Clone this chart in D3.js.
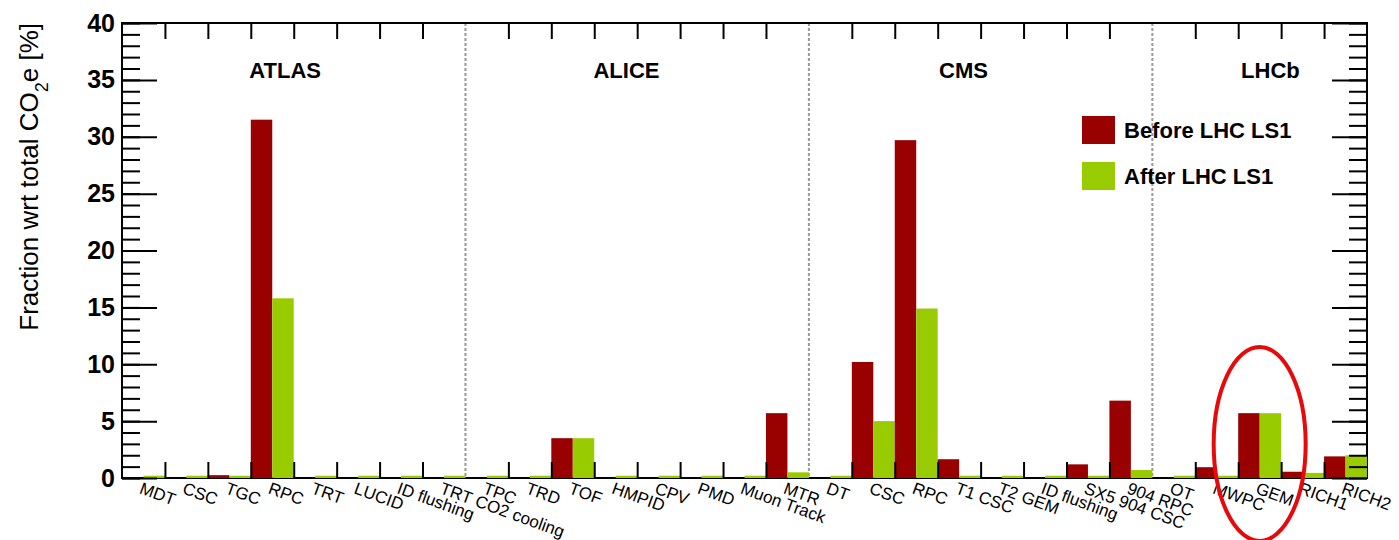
<!DOCTYPE html>
<html lang="en">
<head>
<meta charset="utf-8">
<title>Fraction wrt total CO2e per system</title>
<style>
  body { margin: 0; background: #fff; }
  svg text { font-family: "Liberation Sans", Arial, sans-serif; fill: #000; }
  .tick line { stroke: #000; stroke-width: 2; }
  .ytick text { font-size: 25px; font-weight: bold; }
  .xlabel { font-size: 17px; }
  .group-title { font-size: 22px; font-weight: bold; text-anchor: middle; }
  .legend-text { font-size: 22px; font-weight: bold; }
  .axis-title { font-size: 26px; }
  .sep { stroke: #999; stroke-width: 2; stroke-dasharray: 3,2; }
</style>
</head>
<body>
<div id="chart"></div>
<script src="https://cdn.jsdelivr.net/npm/d3@7"></script>
<script>

// one bin per gas system, grouped by experiment
var systems = ["MDT", "CSC", "TGC", "RPC", "TRT", "LUCID", "ID flushing", "TRT CO2 cooling",
               "TPC", "TRD", "TOF", "HMPID", "CPV", "PMD", "Muon Track", "MTR",
               "DT", "CSC", "RPC", "T1 CSC", "T2 GEM", "ID flushing", "SX5 904 CSC", "904 RPC",
               "OT", "MWPC", "GEM", "RICH1", "RICH2"];
var experiments = ["ATLAS", "ALICE", "CMS", "LHCb"];
var experimentSize = [8, 8, 8, 5];

// fraction wrt total CO2e [%]
var beforeLS1 = [0, 0, 0.25, 31.5, 0, 0, 0, 0,
                 0, 0, 3.5, 0, 0, 0, 0, 5.7,
                 0, 10.2, 29.7, 1.65, 0, 0, 1.2, 6.8,
                 0, 0.95, 5.7, 0.55, 1.9];
var afterLS1  = [0.2, 0.2, 0.2, 15.8, 0.2, 0.2, 0.2, 0.2,
                 0.2, 0.2, 3.5, 0.2, 0.2, 0.2, 0.2, 0.5,
                 0.2, 5.0, 14.9, 0.2, 0.2, 0.2, 0.2, 0.7,
                 0.2, 0.2, 5.7, 0.45, 2.0];
var seriesNames = ["Before LHC LS1", "After LHC LS1"];
var seriesColors = ["#990000", "#99cc00"];
var yTicks = [0, 5, 10, 15, 20, 25, 30, 35, 40];

var plotLeft = 122, plotRight = 1367, plotTop = 23, plotBottom = 478;

var svg = d3.select("#chart").append("svg")
    .attr("width", 1399)
    .attr("height", 540);

var x = d3.scaleBand()
    .domain(d3.range(systems.length))
    .range([plotLeft, plotRight])
    .padding(0);

var xSeries = d3.scaleBand()
    .domain([0, 1])
    .range([0, x.bandwidth()]);

var xEdge = d3.scaleLinear()
    .domain([0, systems.length])
    .range([plotLeft, plotRight]);

var y = d3.scaleLinear()
    .domain([0, 40])
    .range([plotBottom, plotTop]);

// experiment boundaries
var bounds = Array.from(d3.cumsum(experimentSize)).slice(0, -1);
var starts = [0].concat(bounds);

svg.selectAll(".sep")
   .data(bounds)
   .enter()
   .append("line")
   .attr("class", "sep")
   .attr("x1", function(d){ return xEdge(d); })
   .attr("x2", function(d){ return xEdge(d); })
   .attr("y1", plotTop)
   .attr("y2", plotBottom);

// frame
svg.append("rect")
   .attr("x", plotLeft)
   .attr("y", plotTop)
   .attr("width", plotRight - plotLeft)
   .attr("height", plotBottom - plotTop)
   .style("fill", "none")
   .style("stroke", "#000")
   .style("stroke-width", 2);

// bars
var rows = [];
systems.forEach(function(s, i){
    rows.push({bin: i, s: 0, v: beforeLS1[i]});
    rows.push({bin: i, s: 1, v: afterLS1[i]});
});

svg.append("g").selectAll("rect")
   .data(rows.filter(function(d){ return d.v > 0; }))
   .enter()
   .append("rect")
   .attr("x", function(d){ return x(d.bin) + xSeries(d.s); })
   .attr("y", function(d){ return y(d.v); })
   .attr("width", xSeries.bandwidth())
   .attr("height", function(d){ return y(0) - y(d.v); })
   .style("fill", function(d){ return seriesColors[d.s]; });

// ticks
var edges = d3.range(1, systems.length).filter(function(e){ return bounds.indexOf(e) < 0; });

svg.append("g")
   .attr("transform", "translate(0," + plotTop + ")")
   .call(d3.axisTop(xEdge).tickValues(edges).tickSize(-16).tickFormat(""))
   .call(function(g){ g.select(".domain").remove(); });

svg.append("g")
   .attr("transform", "translate(0," + plotBottom + ")")
   .call(d3.axisBottom(xEdge).tickValues(edges).tickSize(-16).tickFormat(""))
   .call(function(g){ g.select(".domain").remove(); });

svg.append("g")
   .attr("transform", "translate(" + plotLeft + ",0)")
   .call(d3.axisLeft(y).tickValues(d3.range(0, 41)).tickSize(-18).tickFormat(""))
   .call(function(g){ g.select(".domain").remove(); });

svg.append("g")
   .attr("class", "ytick")
   .attr("transform", "translate(" + plotLeft + ",0)")
   .call(d3.axisLeft(y).tickValues(yTicks).tickSize(-35).tickPadding(7).tickFormat(d3.format("d")))
   .call(function(g){ g.select(".domain").remove(); });

svg.append("g")
   .attr("transform", "translate(" + plotRight + ",0)")
   .call(d3.axisRight(y).tickValues(d3.range(0, 41)).tickSize(-18).tickFormat(""))
   .call(function(g){ g.select(".domain").remove(); });

svg.append("g")
   .attr("transform", "translate(" + plotRight + ",0)")
   .call(d3.axisRight(y).tickValues(yTicks).tickSize(-35).tickFormat(""))
   .call(function(g){ g.select(".domain").remove(); });

// bin labels, tilted
svg.append("g").selectAll("text")
   .data(systems)
   .enter()
   .append("text")
   .attr("class", "xlabel")
   .attr("transform", function(d, i){
        return "translate(" + (x(i) + x.bandwidth()/2 - 5) + "," + 493 + ") rotate(20)";
   })
   .text(function(d){ return d; });

// experiment names
var shift = [-0.2, -0.25, -0.4, 0.25];
svg.selectAll(".group-title")
   .data(experiments)
   .enter()
   .append("text")
   .attr("class", "group-title")
   .attr("x", function(d, i){ return xEdge(starts[i] + experimentSize[i]/2 + shift[i]); })
   .attr("y", 78)
   .text(function(d){ return d; });

// y title
var ytitle = svg.append("text")
   .attr("class", "axis-title")
   .attr("transform", "translate(38," + plotTop + ") rotate(-90)")
   .attr("text-anchor", "end");
ytitle.append("tspan").text("Fraction wrt total CO");
ytitle.append("tspan").attr("baseline-shift", "sub").style("font-size", "18px").text("2");
ytitle.append("tspan").text("e [%]");

// legend
var legend = svg.append("g").attr("transform", "translate(1082,116)");
legend.selectAll("rect")
      .data(seriesNames)
      .enter()
      .append("rect")
      .attr("x", 0)
      .attr("y", function(d, i){ return i * 46; })
      .attr("width", 33)
      .attr("height", 28)
      .style("fill", function(d, i){ return seriesColors[i]; });
legend.selectAll("text")
      .data(seriesNames)
      .enter()
      .append("text")
      .attr("class", "legend-text")
      .attr("x", 42)
      .attr("y", function(d, i){ return 22 + i * 46; })
      .text(function(d){ return d; });

// red ring drawn around the LHCb GEM bin
var gem = 26;
svg.append("ellipse")
   .attr("cx", x(gem) + x.bandwidth()/2)
   .attr("cy", y(3))
   .attr("rx", 46)
   .attr("ry", 97)
   .style("fill", "none")
   .style("stroke", "#e8090b")
   .style("stroke-width", 4);

</script>
</body>
</html>
